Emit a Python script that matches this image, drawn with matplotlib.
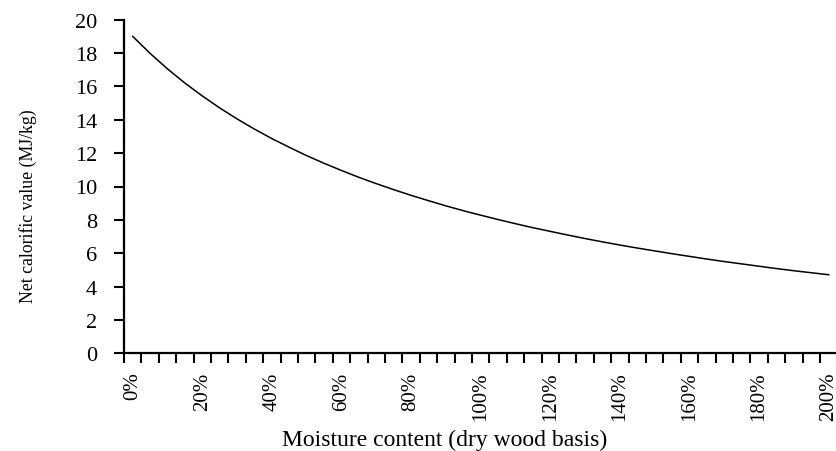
import numpy as np
import matplotlib
matplotlib.use("Agg")
import matplotlib.pyplot as plt

plt.rcParams['font.family'] = ['Liberation Serif', 'DejaVu Serif']

# moisture content, dry wood basis, in steps of 5 %
moisture = list(range(0, 205, 5))
ncv = [19.00, 17.98, 17.05, 16.20, 15.43, 14.71, 14.05, 13.44, 12.87, 12.35,
       11.85, 11.39, 10.96, 10.55, 10.17, 9.81, 9.47, 9.15, 8.84, 8.55,
       8.28, 8.02, 7.77, 7.53, 7.31, 7.09, 6.88, 6.68, 6.49, 6.31,
       6.14, 5.97, 5.81, 5.65, 5.50, 5.36, 5.22, 5.08, 4.95, 4.83, 4.71]
label_every = 4
yticks = list(range(0, 21, 2))

fig = plt.figure(figsize=(8.36, 4.52), dpi=100)
ax = fig.add_axes([124 / 836, 97.7 / 452, 713.4 / 836, 333.6 / 452])

x = np.arange(len(moisture))
ax.plot(x, ncv, color="black", lw=1.1)

ax.set_xlim(-0.5, len(moisture) - 0.5)
ax.set_ylim(0, 20)

ax.set_xticks(x[::label_every])
ax.set_xticklabels([f"{m}%" for m in moisture[::label_every]], rotation=90,
                   fontsize=15)
ax.set_xticks(np.arange(len(moisture) + 1) - 0.5, minor=True)
ax.tick_params(axis="x", which="major", length=0, pad=13)
ax.tick_params(axis="x", which="minor", length=7, width=1.5, direction="out")

ax.set_yticks(yticks)
ax.set_yticklabels([str(v) for v in yticks], fontsize=16)
ax.tick_params(axis="y", length=7.5, width=1.5, pad=12)

for s in ["top", "right"]:
    ax.spines[s].set_visible(False)
for s in ["left", "bottom"]:
    ax.spines[s].set_linewidth(1.6)

ax.set_ylabel("Net calorific value (MJ/kg)", fontsize=12.8, va="center")
ax.yaxis.set_label_coords(-0.1346, 0.4445)
ax.set_xlabel("Moisture content (dry wood basis)", fontsize=17, va="center")
ax.xaxis.set_label_coords(0.45, -0.257)

fig.savefig("out.png", dpi=100)
